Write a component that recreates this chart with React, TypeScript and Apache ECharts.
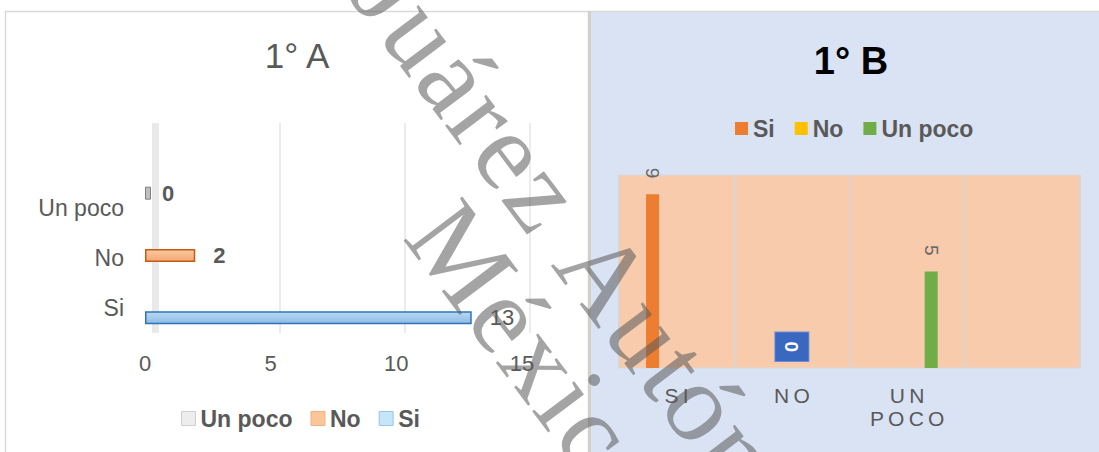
import React, { useEffect, useRef } from "react";
import * as echarts from "echarts";

// ---- Data: chart "1° A" (horizontal bars) ----
const LA_CATS = ["Si", "No", "Un poco"];
const LA_SI = [13, "-", "-"];
const LA_NO = ["-", 2, "-"];
const LA_UNPOCO = ["-", "-", 0];
const LA_MAX = 15;
const LA_STEP = 5;

// ---- Data: chart "1° B" (vertical bars) ----
const RB_CATS = ["SI", "NO", "UN POCO", ""];
const RB_SI = [9, "-", "-", "-"];
const RB_NO = ["-", 0, "-", "-"];
const RB_UNPOCO = ["-", "-", 5, "-"];
const RB_MAX = 10;

// ---- Watermark lines ----
const WM_LINES = ["Juárez Autónoma", "México"];

const FONT = "'Liberation Sans', Arial, sans-serif";
const SERIF = "'Liberation Serif', 'Times New Roman', serif";

function watermarkElements(): any[] {
  const size = 112;
  const spacing = 3;
  const ang = (53 * Math.PI) / 180;
  const dx = Math.cos(ang);
  const dy = Math.sin(ang);
  const canvas = document.createElement("canvas");
  const ctx = canvas.getContext("2d") as CanvasRenderingContext2D;
  ctx.font = `${size}px ${SERIF}`;
  const starts = [
    [392, -8],
    [462, 255],
  ];
  const out: any[] = [];
  WM_LINES.forEach((line, li) => {
    const chars = Array.from(line);
    let d = 0;
    chars.forEach((ch, i) => {
      const w = ctx.measureText(ch).width;
      if (i > 0) {
        const pw = ctx.measureText(chars[i - 1]).width;
        d += pw / 2 + spacing + w / 2;
      }
      if (ch === " ") return;
      out.push({
        type: "text",
        x: starts[li][0] + d * dx,
        y: starts[li][1] + d * dy,
        rotation: -ang,
        z: 100,
        silent: true,
        style: {
          text: ch,
          fill: "rgba(90,90,90,0.55)",
          fontSize: size,
          fontFamily: SERIF,
          align: "center",
          verticalAlign: "middle",
        },
      });
    });
  });
  return out;
}

export default function App() {
  const ref = useRef<HTMLDivElement>(null);

  useEffect(() => {
    if (!ref.current) return;
    const chart = echarts.init(ref.current, null, { renderer: "svg" });

    const splitName = (n: string) => n.split("|")[1];

    const rightFmt = (v: string) =>
      v
        .split(" ")
        .map((w) => w.split("").join("\u2009"))
        .join("\n");

    const rbLabel = {
      show: true,
      position: "top",
      rotate: -90,
      align: "right",
      verticalAlign: "middle",
      distance: 16,
      color: "#666666",
      fontSize: 19,
      fontFamily: FONT,
    };

    const option: any = {
      animation: false,
      textStyle: { fontFamily: FONT },
      graphic: [
        {
          type: "rect",
          z: -10,
          silent: true,
          shape: { x: 5.5, y: 11.5, width: 583, height: 470 },
          style: { fill: "#ffffff", stroke: "#D9D9D9", lineWidth: 1.5 },
        },
        {
          type: "rect",
          z: -10,
          silent: true,
          shape: { x: 589, y: 11.5, width: 520, height: 470 },
          style: { fill: "#DAE3F3", stroke: "#D9D9D9", lineWidth: 1.5 },
        },
        {
          type: "line",
          z: -9,
          silent: true,
          shape: { x1: 589.5, y1: 11, x2: 589.5, y2: 452 },
          style: { stroke: "#D3D0C8", lineWidth: 3 },
        },
        ...watermarkElements(),
      ],
      title: [
        {
          text: "1° A",
          left: 297,
          textAlign: "center",
          top: 38,
          padding: 0,
          textStyle: { fontSize: 35, fontWeight: "normal", color: "#595959", fontFamily: FONT },
        },
        {
          text: "1° B",
          left: 851,
          textAlign: "center",
          top: 42,
          padding: 0,
          textStyle: { fontSize: 38, fontWeight: "bold", color: "#000000", fontFamily: FONT },
        },
      ],
      legend: [
        {
          left: 181,
          top: 407,
          padding: 0,
          itemWidth: 14,
          itemHeight: 14,
          itemGap: 18,
          icon: "rect",
          formatter: splitName,
          textStyle: { fontSize: 23, fontWeight: "bold", color: "#595959", fontFamily: FONT },
          data: [
            { name: "A|Un poco", itemStyle: { color: "#EDEDED", borderColor: "#CFCFCF", borderWidth: 1 } },
            { name: "A|No", itemStyle: { color: "#FAC598", borderColor: "#F4B183", borderWidth: 1 } },
            { name: "A|Si", itemStyle: { color: "#C5E5FB", borderColor: "#9DC3E6", borderWidth: 1 } },
          ],
        },
        {
          left: 735,
          top: 117,
          padding: 0,
          itemWidth: 13,
          itemHeight: 13,
          itemGap: 20,
          icon: "rect",
          formatter: splitName,
          textStyle: { fontSize: 23, fontWeight: "bold", color: "#595959", fontFamily: FONT },
          data: ["B|Si", "B|No", "B|Un poco"],
        },
      ],
      grid: [
        { left: 145, top: 162, width: 377, height: 187 },
        { left: 155, top: 123, width: 375, height: 210 },
        { left: 145, top: 183, width: 377, height: 150 },
        {
          left: 619,
          top: 175,
          width: 461,
          height: 193,
          show: true,
          backgroundColor: "#F7CBAC",
          borderColor: "#D9D9D9",
          borderWidth: 1,
        },
      ],
      xAxis: [
        { gridIndex: 0, type: "value", min: 0, max: LA_MAX, show: false },
        {
          gridIndex: 1,
          type: "value",
          min: 0,
          max: LA_MAX,
          interval: LA_STEP,
          axisLabel: { show: false },
          axisLine: { show: false },
          axisTick: { show: false },
          splitLine: { show: true, lineStyle: { color: "#E6E6E6", width: 1.5 } },
        },
        {
          gridIndex: 2,
          type: "value",
          min: 0,
          max: LA_MAX,
          interval: LA_STEP,
          axisLabel: { show: true, fontSize: 22, color: "#595959", margin: 19 },
          axisLine: { show: false },
          axisTick: { show: false },
          splitLine: { show: false },
        },
        {
          gridIndex: 3,
          type: "category",
          data: RB_CATS,
          axisLine: { show: false },
          axisTick: { show: false },
          splitLine: { show: true, lineStyle: { color: "#DCD4CE", width: 2 } },
          axisLabel: {
            show: true,
            interval: 0,
            fontSize: 21,
            lineHeight: 23,
            color: "#595959",
            margin: 16,
            formatter: rightFmt,
          },
        },
      ],
      yAxis: [
        { gridIndex: 0, type: "category", data: LA_CATS, show: false },
        {
          gridIndex: 1,
          type: "value",
          min: 0,
          max: 1,
          offset: 5,
          axisLine: { show: true, lineStyle: { color: "#E9E9E9", width: 7, cap: "butt" } },
          axisLabel: { show: false },
          axisTick: { show: false },
          splitLine: { show: false },
        },
        {
          gridIndex: 2,
          type: "category",
          data: LA_CATS,
          axisLine: { show: false },
          axisTick: { show: false },
          splitLine: { show: false },
          axisLabel: { show: true, fontSize: 23, color: "#595959", margin: 21 },
        },
        { gridIndex: 3, type: "value", min: 0, max: RB_MAX, show: false },
      ],
      series: [
        {
          name: "A|Un poco",
          type: "bar",
          xAxisIndex: 0,
          yAxisIndex: 0,
          stack: "la",
          barWidth: 13,
          barMinHeight: 6,
          data: LA_UNPOCO,
          itemStyle: { color: "#BFBFBF", borderColor: "#7F7F7F", borderWidth: 1 },
          label: { show: true, position: "right", distance: 11, fontSize: 22, fontWeight: "bold", color: "#595959" },
        },
        {
          name: "A|No",
          type: "bar",
          xAxisIndex: 0,
          yAxisIndex: 0,
          stack: "la",
          barWidth: 13,
          data: LA_NO,
          itemStyle: {
            color: {
              type: "linear",
              x: 0,
              y: 0,
              x2: 0,
              y2: 1,
              colorStops: [
                { offset: 0, color: "#FBC9A2" },
                { offset: 1, color: "#F4A872" },
              ],
            },
            borderColor: "#C55A11",
            borderWidth: 1.5,
          },
          label: { show: true, position: "right", distance: 18, fontSize: 22, fontWeight: "bold", color: "#595959" },
        },
        {
          name: "A|Si",
          type: "bar",
          xAxisIndex: 0,
          yAxisIndex: 0,
          stack: "la",
          barWidth: 13,
          data: LA_SI,
          itemStyle: {
            color: {
              type: "linear",
              x: 0,
              y: 0,
              x2: 0,
              y2: 1,
              colorStops: [
                { offset: 0, color: "#B9D7F2" },
                { offset: 1, color: "#8DBBE8" },
              ],
            },
            borderColor: "#2E75B6",
            borderWidth: 1.5,
          },
          label: { show: true, position: "right", distance: 18, fontSize: 22, fontWeight: "normal", color: "#595959" },
        },
        {
          name: "B|Si",
          type: "bar",
          xAxisIndex: 3,
          yAxisIndex: 3,
          barWidth: 13,
          barGap: "85%",
          data: RB_SI,
          itemStyle: { color: "#ED7D31" },
          label: rbLabel,
        },
        {
          name: "B|No",
          type: "bar",
          xAxisIndex: 3,
          yAxisIndex: 3,
          barWidth: 13,
          barGap: "85%",
          data: RB_NO,
          itemStyle: { color: "#FFC000" },
          label: {
            ...rbLabel,
            distance: 7,
            color: "#ffffff",
            fontWeight: "bold",
            backgroundColor: "#3A67C0",
            borderColor: "#6C8ED6",
            borderWidth: 1,
            padding: [7, 9],
          },
        },
        {
          name: "B|Un poco",
          type: "bar",
          xAxisIndex: 3,
          yAxisIndex: 3,
          barWidth: 13,
          barGap: "85%",
          data: RB_UNPOCO,
          itemStyle: { color: "#70AD47" },
          label: rbLabel,
        },
      ],
    };

    chart.setOption(option);
    return () => chart.dispose();
  }, []);

  return (
    <div
      ref={ref}
      style={{ position: "absolute", left: 0, top: 0, width: 1099, height: 452 }}
    />
  );
}
